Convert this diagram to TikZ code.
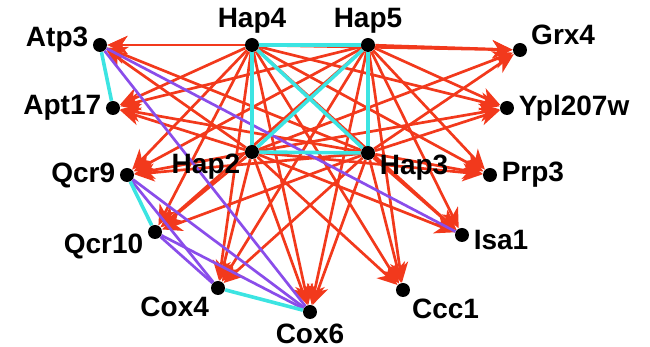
\documentclass[tikz,border=0pt]{standalone}
\usepackage{fontspec}
\setmainfont{Liberation Sans}
\usetikzlibrary{arrows.meta,backgrounds}
\definecolor{RegRed}{HTML}{F2391C}
\definecolor{CplxCyan}{HTML}{3CE4E2}
\definecolor{CoexPurple}{HTML}{8A4DEA}
\tikzset{
  gene/.style={circle, fill=black, inner sep=0pt, minimum size=7pt},
  lbl/.style={font=\bfseries\fontsize{14}{14}\selectfont, inner sep=1pt, label distance=1pt},
  reg/.style={-{Stealth[length=10pt,width=9pt,inset=3pt]}, line width=1.35pt, draw=RegRed},
  cplx/.style={line width=1.8pt, draw=CplxCyan},
  coex/.style={line width=1.35pt, draw=CoexPurple},
}
\begin{document}
\begin{tikzpicture}[x=0.5pt,y=-0.5pt]
  \useasboundingbox (0,0) rectangle (650,347);
  % HAP complex
  \node[gene,label={[lbl]above:Hap4}] (hap4) at (252,45) {};
  \node[gene,label={[lbl]above:Hap5}] (hap5) at (368,45) {};
  \node[gene,label={[lbl,anchor=north east]left:Hap2}] (hap2) at (252,152) {};
  \node[gene,label={[lbl,anchor=north west]right:Hap3}] (hap3) at (368,153) {};
  % targets, left side
  \node[gene,label={[lbl,yshift=2.5pt]left:Atp3}] (atp3) at (100,45) {};
  \node[gene,label={[lbl]left:Apt17}] (apt17) at (113,108) {};
  \node[gene,label={[lbl]left:Qcr9}] (qcr9) at (127,175) {};
  \node[gene,label={[lbl,anchor=north east]left:Qcr10}] (qcr10) at (155,232) {};
  \node[gene,label={[lbl,anchor=north east]below left:Cox4}] (cox4) at (218,288) {};
  \node[gene,label={[lbl]below:Cox6}] (cox6) at (310,312) {};
  % targets, right side
  \node[gene,label={[lbl,anchor=south west]20:Grx4}] (grx4) at (520,50) {};
  \node[gene,label={[lbl]right:Ypl207w}] (ypl207w) at (507,108) {};
  \node[gene,label={[lbl]right:Prp3}] (prp3) at (490,175) {};
  \node[gene,label={[lbl,yshift=-2.5pt]right:Isa1}] (isa1) at (462,235) {};
  \node[gene,label={[lbl,anchor=north west]below right:Ccc1}] (ccc1) at (403,290) {};

  \begin{scope}[on background layer]
  % regulation
  \foreach \src in {hap4,hap5,hap2,hap3}
    \foreach \dst in {atp3,apt17,qcr9,qcr10,cox4,cox6,grx4,ypl207w,prp3,isa1,ccc1}
      \draw[reg] (\src) -- (\dst);

  % co-expression
  \draw[coex] (atp3) -- (cox6);
  \draw[coex] (atp3) -- (isa1);
  \draw[coex] (qcr9) -- (cox4);
  \draw[coex] (qcr9) -- (cox6);
  \draw[coex] (qcr10) -- (cox4);
  \draw[coex] (qcr10) -- (cox6);

  % complexes
  \draw[cplx] (hap4) -- (hap5);
  \draw[cplx] (hap4) -- (hap2);
  \draw[cplx] (hap4) -- (hap3);
  \draw[cplx] (hap5) -- (hap2);
  \draw[cplx] (hap5) -- (hap3);
  \draw[cplx] (hap2) -- (hap3);
  \draw[cplx] (atp3) -- (apt17);
  \draw[cplx] (qcr9) -- (qcr10);
  \draw[cplx] (cox4) -- (cox6);
  \end{scope}
\end{tikzpicture}
\end{document}
